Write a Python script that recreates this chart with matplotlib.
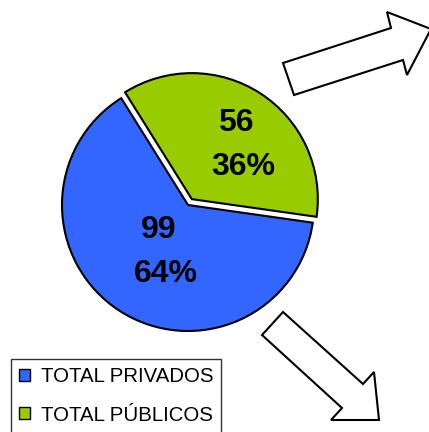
import numpy as np
import matplotlib
matplotlib.use("Agg")
from matplotlib import pyplot as plt
from matplotlib.patches import Polygon

plt.rcParams['font.family'] = ['Liberation Sans', 'DejaVu Sans']

labels = ['TOTAL PRIVADOS', 'TOTAL PÚBLICOS']
values = [99, 56]
colors = ['#3366FF', '#99CC00']

fig = plt.figure(figsize=(4.29, 4.32), dpi=100)
ax = fig.add_axes([0, 0, 1, 1])

# explode is in data units here (pixels)
wedges, _ = ax.pie(values, colors=colors, explode=[0, 7], startangle=122,
                   center=(188, 227), radius=126,
                   wedgeprops=dict(edgecolor='black', linewidth=1.5))
ax.set_xlim(0, 429)
ax.set_ylim(0, 432)
ax.set_aspect('equal')
ax.axis('off')

# value / percent labels
total = sum(values)
lab_pos = [((159, 432 - 230), (166, 432 - 274)), ((236, 432 - 123), (243, 432 - 167))]
for v, (p1, p2) in zip(values, lab_pos):
    ax.text(p1[0], p1[1], str(v), ha='center', va='center', fontsize=23, fontweight='bold')
    ax.text(p2[0], p2[1], '%d%%' % round(100 * v / total), ha='center', va='center',
            fontsize=23, fontweight='bold')

# block arrows
arrow_up = [(283, 63), (294, 95), (403, 60), (407, 75), (431, 29), (387, 12), (391, 28)]
arrow_dn = [(283, 312), (262, 335), (342, 408), (331, 420), (379, 420), (374, 372), (363, 384)]
for pts in (arrow_up, arrow_dn):
    ax.add_patch(Polygon([(x, 432 - y) for x, y in pts], closed=True,
                         facecolor='white', edgecolor='black', linewidth=1.5, clip_on=False))

leg = fig.legend(wedges, labels, loc='upper left', bbox_to_anchor=(11 / 429, 1 - 359 / 432),
                 fontsize=14.7, frameon=True, fancybox=False, edgecolor='black',
                 handlelength=0.55, handleheight=0.55, handletextpad=0.5,
                 labelspacing=0.95, borderpad=0.4, borderaxespad=0)
leg.get_frame().set_linewidth(1)
for h in leg.legend_handles:
    h.set_linewidth(1)

fig.savefig('out.png', dpi=100)
